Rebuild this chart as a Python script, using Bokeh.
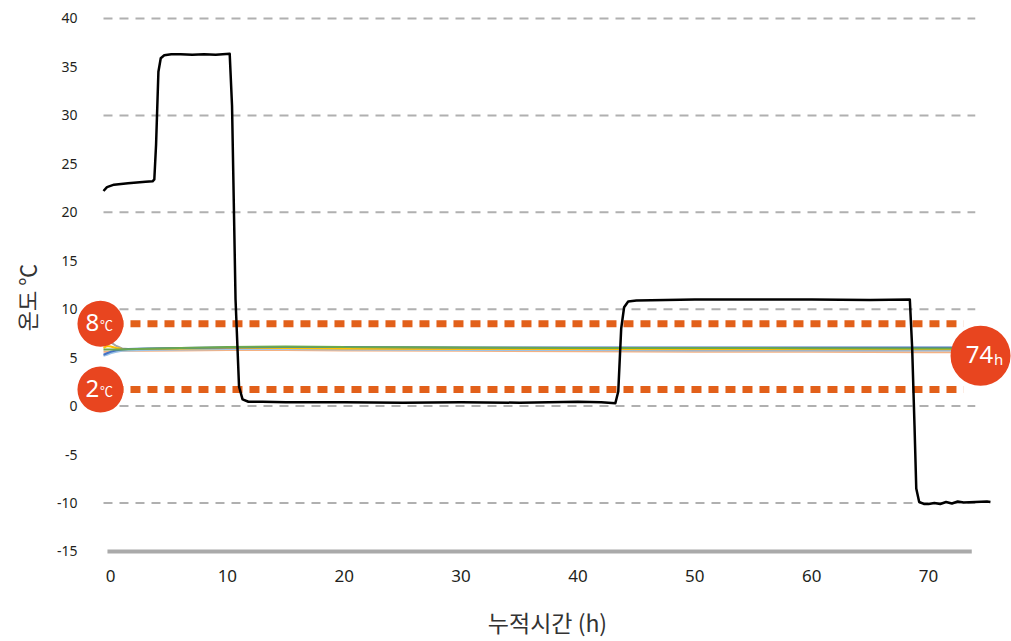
import math
from bokeh.plotting import figure
from bokeh.models import FixedTicker
from bokeh.core.properties import value
from bokeh.embed import file_html
from bokeh.resources import INLINE

# ---------------- data ----------------
# ambient (chamber) temperature, black line
ambient_t = [-0.6, -0.3, 0.3, 1.5, 3.0, 3.6, 3.75, 3.9, 4.1, 4.3, 4.6, 5.2, 6.0, 7.0, 8.0, 9.0, 10.2,
             10.4, 10.7, 11.0, 11.3, 11.8, 13.0, 15.0, 20.0, 25.0, 30.0, 35.0, 40.0, 42.0, 43.2,
             43.45, 43.7, 43.95, 44.3, 45.0, 50.0, 55.0, 60.0, 65.0, 68.4,
             68.6, 68.8, 68.95, 69.2, 69.6, 70.0, 70.5, 71.0, 71.5, 72.0, 72.5, 73.0, 74.0, 75.0, 75.3]
ambient_v = [22.2, 22.6, 22.85, 23.0, 23.15, 23.2, 23.4, 27.0, 34.5, 35.9, 36.2, 36.3, 36.3, 36.25, 36.3, 36.25, 36.35,
             31.0, 11.0, 2.0, 0.7, 0.45, 0.45, 0.4, 0.4, 0.35, 0.4, 0.35, 0.45, 0.4, 0.3,
             1.5, 8.0, 10.2, 10.8, 10.9, 11.0, 11.0, 11.0, 10.95, 11.0,
             6.0, -2.0, -8.5, -9.9, -10.1, -10.1, -10.0, -10.1, -9.9, -10.05, -9.85, -9.95, -9.9, -9.85, -9.9]

# product temperatures (six loggers)
logger_t = [-0.6, -0.3, 0.0, 0.5, 1.0, 1.5, 3, 6, 10, 15, 20, 30, 40, 50, 60, 70, 74]
logger_salmon = [5.6, 5.6, 5.6, 5.65, 5.7, 5.7, 5.72, 5.75, 5.8, 5.8, 5.75, 5.7, 5.65, 5.6, 5.6, 5.55, 5.55]
logger_lightblue = [5.2, 5.3, 5.45, 5.6, 5.7, 5.75, 5.8, 5.85, 5.9, 5.9, 5.85, 5.8, 5.8, 5.75, 5.75, 5.75, 5.75]
logger_gray = [6.5, 6.8, 6.6, 6.2, 5.95, 5.9, 5.9, 5.95, 6.0, 6.0, 5.95, 5.9, 5.9, 5.85, 5.85, 5.85, 5.85]
logger_yellow = [6.0, 6.2, 6.15, 6.0, 5.9, 5.88, 5.9, 5.95, 6.0, 6.0, 5.95, 5.9, 5.9, 5.9, 5.9, 5.9, 5.9]
logger_blue = [5.3, 5.45, 5.6, 5.75, 5.85, 5.9, 5.95, 6.0, 6.05, 6.1, 6.1, 6.05, 6.05, 6.05, 6.05, 6.05, 6.05]
logger_green = [5.85, 5.85, 5.85, 5.85, 5.85, 5.87, 5.92, 6.0, 6.1, 6.15, 6.1, 6.05, 6.0, 6.0, 5.98, 5.95, 5.95]

y_ticks = [40, 35, 30, 25, 20, 15, 10, 5, 0, -5, -10, -15]
x_ticks = [0, 10, 20, 30, 40, 50, 60, 70]
grid_levels = [40, 30, 20, 10, 0, -10]
baseline_level = -15
threshold_levels = [8.5, 1.7]
threshold_names = ["8", "2"]
elapsed_name = "74"
elapsed_level = 5.2
elapsed_time = 74.45

x_title = "누적시간 (h)"
y_title = "온도 ℃"

# ---------------- figure ----------------
p = figure(width=1011, height=641,
           x_range=(-4.2786, 77.10), y_range=(-19.443, 41.857),
           output_backend="svg", toolbar_location=None,
           min_border_left=60, min_border_right=0, min_border_top=0, min_border_bottom=47)
p.outline_line_color = None
p.xgrid.visible = False
p.ygrid.visible = False
p.background_fill_color = "white"

num_font = "Noto Sans"
kr_font = "Noto Sans CJK KR"

p.yaxis.ticker = FixedTicker(ticks=y_ticks)
p.yaxis.major_label_overrides = {t: str(t) for t in y_ticks}
p.yaxis.axis_line_color = None
p.yaxis.major_tick_line_color = None
p.yaxis.minor_tick_line_color = None
p.yaxis.major_tick_out = 0
p.yaxis.major_tick_in = 0
p.yaxis.major_label_standoff = -17
p.yaxis.major_label_text_font = num_font
p.yaxis.major_label_text_font_size = "14px"
p.yaxis.major_label_text_color = "#231f20"
p.yaxis.axis_label = y_title
p.yaxis.axis_label_standoff = 12
p.yaxis.axis_label_text_font = kr_font
p.yaxis.axis_label_text_font_style = "normal"
p.yaxis.axis_label_text_font_size = "22px"
p.yaxis.axis_label_text_color = "#333333"

p.xaxis.ticker = FixedTicker(ticks=x_ticks)
p.xaxis.axis_line_color = None
p.xaxis.major_tick_line_color = None
p.xaxis.minor_tick_line_color = None
p.xaxis.major_tick_out = 0
p.xaxis.major_tick_in = 0
p.xaxis.major_label_standoff = -25
p.xaxis.major_label_text_font = num_font
p.xaxis.major_label_text_font_size = "17px"
p.xaxis.major_label_text_color = "#231f20"
p.xaxis.axis_label = "\u2002\u2002" + x_title
p.xaxis.axis_label_standoff = 20
p.xaxis.axis_label_text_font = kr_font
p.xaxis.axis_label_text_font_style = "normal"
p.xaxis.axis_label_text_font_size = "23px"
p.xaxis.axis_label_text_color = "#333333"

# dashed grid
n = len(grid_levels)
p.segment(x0=[-0.6] * n, y0=grid_levels, x1=[74.0] * n, y1=grid_levels,
          line_color="#b0b0b0", line_width=2, line_dash="9 7")
# baseline
p.segment(x0=[-0.26], y0=[baseline_level], x1=[73.7], y1=[baseline_level],
          line_color="#aaaaaa", line_width=4)
# threshold dotted lines
m = len(threshold_levels)
p.segment(x0=[-1.2] * m, y0=threshold_levels, x1=[73.0] * m, y1=threshold_levels,
          line_color="#e2601a", line_width=7, line_dash="10 7")

# logger lines
for vals, col in [(logger_salmon, "#f4b183"), (logger_lightblue, "#9dc3e6"),
                  (logger_gray, "#a5a5a5"), (logger_yellow, "#ffc000"),
                  (logger_blue, "#4472c4"), (logger_green, "#6aa84f")]:
    p.line(logger_t, vals, line_color=col, line_width=2)

# ambient line
p.line(ambient_t, ambient_v, line_color="black", line_width=2.5, line_join="round")

# badges
badge_col = "#e8451f"
p.scatter(x=[-0.86] * m, y=threshold_levels, size=46, marker="circle",
          fill_color=badge_col, line_color=None, level="overlay")
p.scatter(x=[elapsed_time], y=[elapsed_level], size=60, marker="circle",
          fill_color=badge_col, line_color=None, level="overlay")
p.text(x=[-0.86] * m, y=threshold_levels, text=threshold_names, x_offset=-8, y_offset=-1,
       text_align="center", text_baseline="middle", text_color="white",
       text_font=value(num_font), text_font_size="24px", level="overlay")
p.text(x=[-0.86] * m, y=threshold_levels, text=["℃"] * m, x_offset=6, y_offset=1,
       text_align="center", text_baseline="middle", text_color="white",
       text_font=value(kr_font), text_font_size="13px", level="overlay")
p.text(x=[elapsed_time], y=[elapsed_level], text=[elapsed_name], x_offset=-1, y_offset=-1,
       text_align="center", text_baseline="middle", text_color="white",
       text_font=value(num_font), text_font_size="24px", level="overlay")
p.text(x=[elapsed_time], y=[elapsed_level], text=["h"], x_offset=18, y_offset=3,
       text_align="center", text_baseline="middle", text_color="white",
       text_font=value(num_font), text_font_size="15px", level="overlay")

open("out.html", "w").write(file_html(p, INLINE))
